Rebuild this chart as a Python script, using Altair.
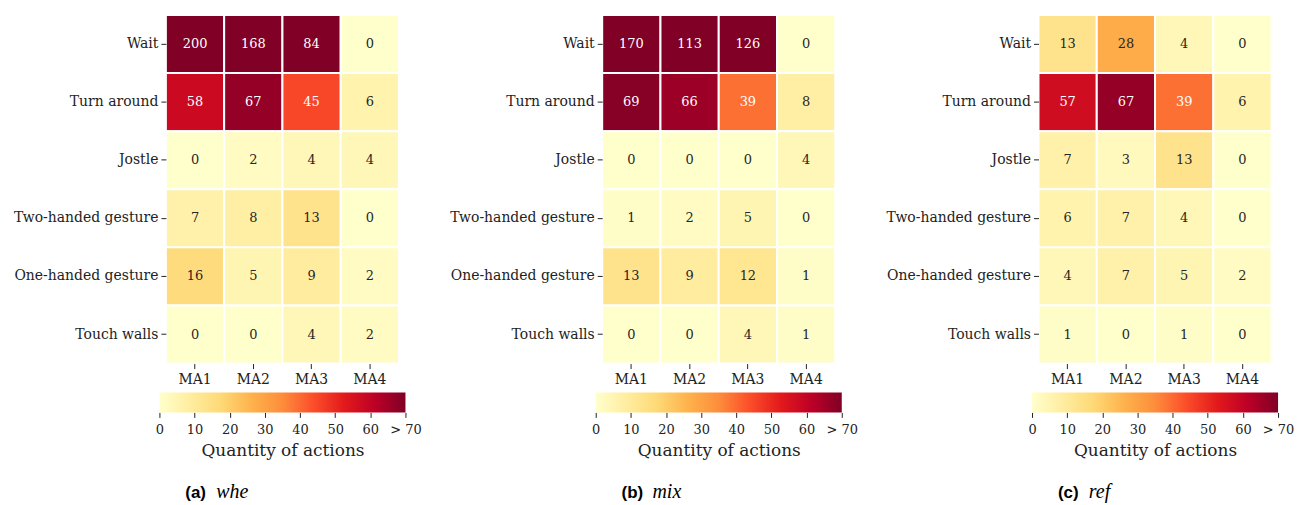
import altair as alt
import pandas as pd

actions = ["Wait", "Turn around", "Jostle", "Two-handed gesture", "One-handed gesture", "Touch walls"]
agents = ["MA1", "MA2", "MA3", "MA4"]
whe = [[200, 168, 84, 0], [58, 67, 45, 6], [0, 2, 4, 4], [7, 8, 13, 0], [16, 5, 9, 2], [0, 0, 4, 2]]
mix = [[170, 113, 126, 0], [69, 66, 39, 8], [0, 0, 0, 4], [1, 2, 5, 0], [13, 9, 12, 1], [0, 0, 4, 1]]
ref = [[13, 28, 4, 0], [57, 67, 39, 6], [7, 3, 13, 0], [6, 7, 4, 0], [4, 7, 5, 2], [1, 0, 1, 0]]
letters = ["(a)", "(b)", "(c)"]
names = ["whe", "mix", "ref"]
bar_ticks = [0, 10, 20, 30, 40, 50, 60, 70]
cmax = 70

palette = ["#ffffcc", "#ffeda0", "#fed976", "#feb24c", "#fd8d3c",
           "#fc4e2a", "#e31a1c", "#bd0026", "#800026"]
stops_dom = [cmax * i / (len(palette) - 1) for i in range(len(palette))]

SERIF = "DejaVu Serif"
color_scale = alt.Scale(domain=stops_dom, range=palette, clamp=True, interpolate="rgb")
PW = 247


def panel(mat, letter, name):
    df = pd.DataFrame([
        {"action": a, "agent": g, "value": mat[i][j]}
        for i, a in enumerate(actions) for j, g in enumerate(agents)
    ])
    base = alt.Chart(df).encode(
        x=alt.X("agent:N", sort=agents,
                scale=alt.Scale(paddingInner=0, paddingOuter=0.111),
                axis=alt.Axis(title=None, labelAngle=0, domain=False, tickSize=5,
                              labelFont=SERIF, labelFontSize=14, labelColor="#222",
                              tickColor="#222", labelPadding=4)),
        y=alt.Y("action:N", sort=actions,
                scale=alt.Scale(paddingInner=0, paddingOuter=0),
                axis=alt.Axis(title=None, domain=False, tickSize=5, offset=-6.5,
                              labelFont=SERIF, labelFontSize=14, labelColor="#222",
                              tickColor="#222", labelPadding=3)),
    )
    rect = base.mark_rect(stroke="white", strokeWidth=2).encode(
        color=alt.Color("value:Q", scale=color_scale, legend=None)
    )
    text = base.mark_text(font=SERIF, fontSize=13).encode(
        text="value:Q",
        color=alt.condition(alt.datum.value >= 35, alt.value("#ffffff"), alt.value("#262626")),
    )
    heat = (rect + text).properties(width=PW, height=350)

    bdf = pd.DataFrame({"start": [0], "end": [cmax]})
    grad = alt.Gradient(
        gradient="linear",
        stops=[alt.GradientStop(color=c, offset=i / (len(palette) - 1)) for i, c in enumerate(palette)],
        x1=0, x2=1, y1=0, y2=0,
    )
    bar = alt.Chart(bdf).mark_rect(color=grad).encode(
        x=alt.X("start:Q", scale=alt.Scale(domain=[0, cmax], nice=False),
                axis=alt.Axis(values=bar_ticks, domain=False, tickSize=5, grid=False,
                              labelOverlap=False, labelFlush=False,
                              labelExpr="datum.value == 70 ? '> 70' : datum.label",
                              labelFont=SERIF, labelFontSize=13, labelColor="#222",
                              tickColor="#222", labelPadding=6,
                              title="Quantity of actions", titleFont=SERIF,
                              titleFontSize=17, titleFontWeight="normal",
                              titleColor="#222", titlePadding=6)),
        x2="end:Q",
    )
    cap = pd.DataFrame({"letter": [letter], "name": [name]})
    t1 = alt.Chart(cap).mark_text(font="Liberation Sans", fontWeight="bold", fontSize=17,
                                  align="left", baseline="middle", color="black").encode(
        text="letter:N", x=alt.value(26), y=alt.value(101))
    t2 = alt.Chart(cap).mark_text(font="Liberation Serif", fontStyle="italic", fontSize=20,
                                  align="left", baseline="middle", color="black").encode(
        text="name:N", x=alt.value(57), y=alt.value(100))
    barc = (bar + t1 + t2).properties(width=PW, height=20)
    return alt.vconcat(heat, barc, spacing=29, bounds="flush")


chart = alt.hconcat(
    panel(whe, letters[0], names[0]),
    panel(mix, letters[1], names[1]),
    panel(ref, letters[2], names[2]),
    spacing=191 + PW, bounds="flush",
).configure_view(stroke=None).properties(padding={"left": 5, "top": 5, "right": 0, "bottom": 5})

chart.save("out.html", embed_options={"renderer": "svg", "actions": False})
